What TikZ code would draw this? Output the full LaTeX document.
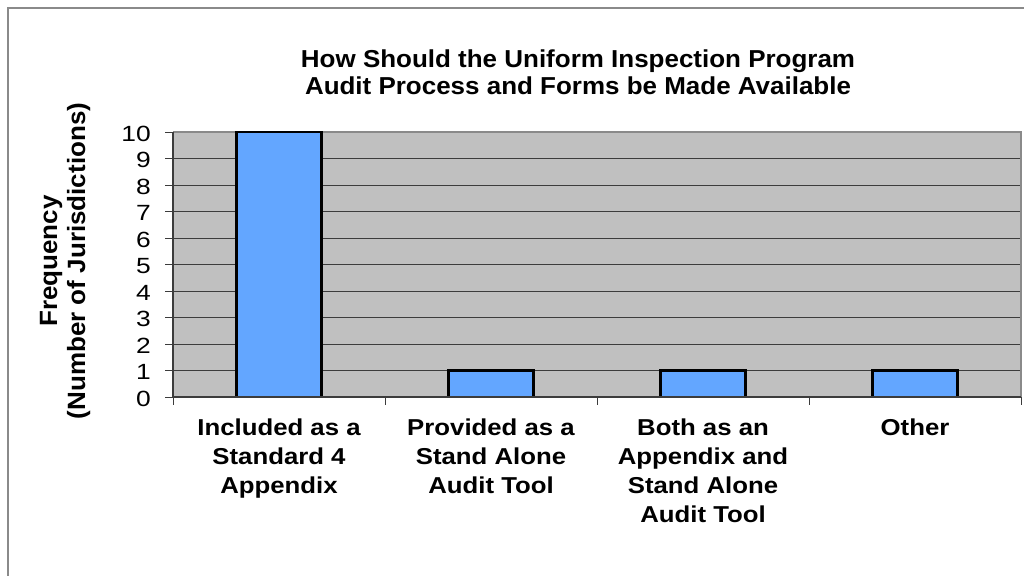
\documentclass[tikz,border=0pt]{standalone}
\usepackage{fontspec}
\setmainfont{Liberation Sans}
\newfontfamily\titlefont{Liberation Sans}[FakeStretch=1.06]
\newfontfamily\catfont{Liberation Sans}[FakeStretch=1.12]
\newfontfamily\tickfont{Liberation Sans}[FakeStretch=1.2]
\newfontfamily\ytitlefont{Liberation Sans}[FakeStretch=1.04]
\definecolor{plotgray}{HTML}{C0C0C0}
\definecolor{barblue}{HTML}{63A6FF}
\definecolor{framegray}{HTML}{8A8A8A}
\definecolor{gridc}{HTML}{3C3C3C}
\tikzset{
  bar/.style={draw=black, line width=2.2pt, fill=barblue},
  grid line/.style={draw=gridc, line width=0.9pt},
  tick/.style={draw=gridc, line width=0.9pt},
  ticklab/.style={anchor=east, inner sep=0pt, font=\tickfont\fontsize{22}{24}\selectfont},
  catlab/.style={anchor=north, inner sep=0pt, align=center, font=\catfont\bfseries\fontsize{23}{29}\selectfont},
}
\begin{document}
\begin{tikzpicture}[x=1pt,y=-1pt]
\useasboundingbox (0,0) rectangle (1024,575);
\fill[white] (0,0) rectangle (1024,575);
% outer frame
\draw[framegray, line width=1.6pt] (8,576) -- (8,8) -- (1025,8);
% plot area
\fill[plotgray] (173,132) rectangle (1021,397);
\foreach \v in {1,...,9} {
  \draw[grid line] (173,{397-26.5*\v}) -- (1021,{397-26.5*\v});
}
\draw[framegray, line width=2pt] (173,132) -- (1021,132) -- (1021,397);
% bars
\foreach \c/\v in {0/10,1/1,2/1,3/1} {
  \draw[bar] ({236.5+212*\c},397) rectangle ({321.5+212*\c},{397-26.5*\v});
}
% axes
\draw[gridc, line width=1.2pt] (173,132) -- (173,397) -- (1021,397);
\foreach \v in {0,...,10} {
  \draw[tick] (165,{397-26.5*\v}) -- (173,{397-26.5*\v});
  \node[ticklab] (t\v) at (151,{398.5-26.5*\v}) {\v};
}
\foreach \c in {0,...,4} {
  \draw[tick] ({173+212*\c},397) -- ({173+212*\c},405);
}
% category labels
\node[catlab] (c1) at (279,419) {Included as a\\Standard 4\\Appendix};
\node[catlab] (c2) at (491,419) {Provided as a\\Stand Alone\\Audit Tool};
\node[catlab] (c3) at (703,419) {Both as an\\Appendix and\\Stand Alone\\Audit Tool};
\node[catlab] (c4) at (915,419) {Other};
% title
\node[anchor=north, inner sep=0pt, align=center, font=\titlefont\bfseries\fontsize{24.5}{26.5}\selectfont] (title) at (578,50)
  {How Should the Uniform Inspection Program\\Audit Process and Forms be Made Available};
% y axis title
\node[rotate=90, inner sep=0pt, align=center, font=\ytitlefont\bfseries\fontsize{25}{28}\selectfont] (ytitle) at (65,261)
  {Frequency\\(Number of Jurisdictions)};
\end{tikzpicture}
\end{document}
